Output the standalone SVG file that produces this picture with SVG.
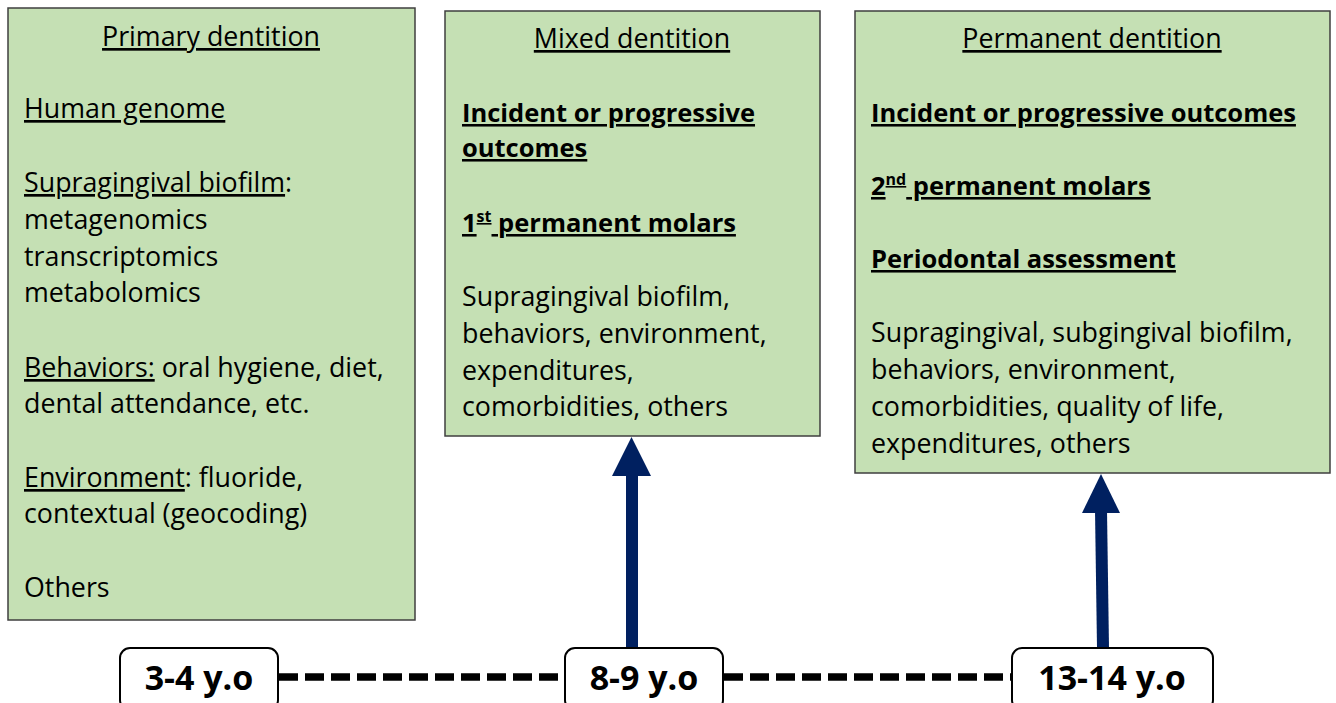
<svg xmlns="http://www.w3.org/2000/svg" width="1336" height="703" viewBox="0 0 1336 703">
<style>
.box{fill:#C5E0B4;stroke:#3F3F3F;stroke-width:1.5}
.age{fill:#fff;stroke:#000;stroke-width:2}
text{font-family:"Open Sans",Lato,sans-serif;font-size:26.8px;fill:#000}
.t{text-anchor:middle}
.u{text-decoration:underline}
.b{font-weight:bold;font-size:25.5px}
.ag{font-size:34px;font-weight:bold;text-anchor:middle}
.dash{stroke:#000;stroke-width:7.5;stroke-dasharray:19 7;fill:none}
.arr{stroke:#002060;stroke-width:12;fill:none}
.head{fill:#002060}
</style>
<g id="connectors">
<line class="dash" x1="279" y1="677" x2="565" y2="677"/>
<line class="dash" x1="724" y1="677" x2="1012" y2="677"/>
<line class="arr" x1="632" y1="648" x2="632" y2="472"/>
<polygon class="head" points="631.5,437 612,476 651,476"/>
<line class="arr" x1="1103" y1="648" x2="1101" y2="510"/>
<polygon class="head" points="1101,474 1082,513 1120,513"/>
</g>
<g id="primary">
<rect class="box" x="8" y="8" width="407" height="612"/>
<text class="t u" x="211" y="46">Primary dentition</text>
<text x="24" y="118"><tspan class="u">Human genome</tspan></text>
<text x="24" y="192"><tspan class="u">Supragingival biofilm</tspan>:</text>
<text x="24" y="229">metagenomics</text>
<text x="24" y="266">transcriptomics</text>
<text x="24" y="302">metabolomics</text>
<text x="24" y="377"><tspan class="u">Behaviors:</tspan> oral hygiene, diet,</text>
<text x="24" y="413">dental attendance, etc.</text>
<text x="24" y="487"><tspan class="u">Environment</tspan>: fluoride,</text>
<text x="24" y="523">contextual (geocoding)</text>
<text x="24" y="597">Others</text>
</g>
<g id="mixed">
<rect class="box" x="445" y="11" width="375" height="425"/>
<text class="t u" x="632" y="48">Mixed dentition</text>
<text class="b u" x="462" y="122">Incident or progressive</text>
<text class="b u" x="462" y="157">outcomes</text>
<text class="b u" x="462" y="232">1<tspan font-size="16" dy="-10">st</tspan><tspan dy="10"> permanent molars</tspan></text>
<text x="462" y="306">Supragingival biofilm,</text>
<text x="462" y="343">behaviors, environment,</text>
<text x="462" y="380">expenditures,</text>
<text x="462" y="416">comorbidities, others</text>
</g>
<g id="permanent">
<rect class="box" x="855" y="11" width="475" height="462"/>
<text class="t u" x="1092" y="48">Permanent dentition</text>
<text class="b u" x="871" y="122">Incident or progressive outcomes</text>
<text class="b u" x="871" y="195">2<tspan font-size="16" dy="-10">nd</tspan><tspan dy="10"> permanent molars</tspan></text>
<text class="b u" x="871" y="268">Periodontal assessment</text>
<text x="871" y="342">Supragingival, subgingival biofilm,</text>
<text x="871" y="379">behaviors, environment,</text>
<text x="871" y="416">comorbidities, quality of life,</text>
<text x="871" y="453">expenditures, others</text>
</g>
<g id="age34">
<rect class="age" x="120" y="648" width="158" height="62" rx="10"/>
<text class="ag" x="199" y="690">3-4 y.o</text>
</g>
<g id="age89">
<rect class="age" x="565" y="648" width="158" height="62" rx="10"/>
<text class="ag" x="644" y="690">8-9 y.o</text>
</g>
<g id="age1314">
<rect class="age" x="1012" y="648" width="201" height="62" rx="10"/>
<text class="ag" x="1112" y="690">13-14 y.o</text>
</g>
</svg>
